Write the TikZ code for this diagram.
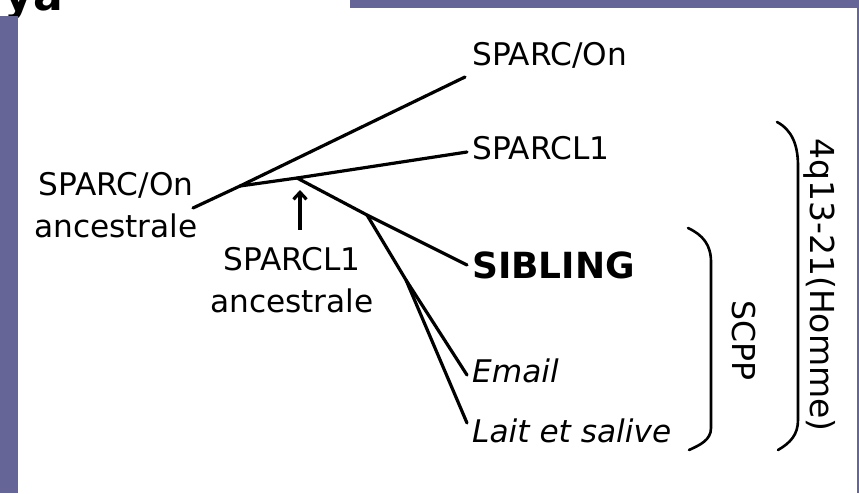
\documentclass[tikz,border=0pt]{standalone}
\usepackage{fontspec}
\setmainfont{DejaVu Sans}
\usetikzlibrary{arrows.meta}
\definecolor{slate}{RGB}{101,101,152}
\begin{document}
\begin{tikzpicture}[x=1pt,y=-1pt,
  branch/.style={line width=3.2pt, line cap=round, line join=round},
  brace/.style={line width=2.6pt, line cap=round},
  lbl/.style={inner sep=0pt, font=\fontsize{31.2}{42}\selectfont},
  leaf/.style={lbl, anchor=base west},
  side/.style={inner sep=0pt, rotate=-90, anchor=base}]
\useasboundingbox (0,0) rectangle (859,493);
\clip (0,0) rectangle (859,493);
\fill[white] (0,0) rectangle (859,493);
% title fragment
\node[inner sep=0pt, anchor=base east, font=\fontsize{44}{48}\selectfont\bfseries] (title) at (63,10) {ya};
% frame bars
\fill[slate] (0,16) rectangle (18,493);
\fill[slate] (350,0) rectangle (859,8);
\fill[slate] (857,8) rectangle (859,493);
% tree points
\coordinate (a0) at (193,208);
\coordinate (root) at (240,186);
\coordinate (n1) at (297,178);
\coordinate (n2) at (367,215);
\coordinate (n3) at (406,280);
\coordinate (e1) at (465,77);
\coordinate (e2) at (467,152);
\coordinate (e3) at (467,265);
\coordinate (e4) at (467,375);
\coordinate (e5) at (467,423);
% labels
\node[leaf] (sparc) at (472,65) {SPARC/On};
\node[leaf] (sparcl) at (472,159) {SPARCL1};
\node[leaf, font=\fontsize{36}{42}\selectfont\bfseries] (sib) at (472,278) {SIBLING};
\node[leaf, font=\fontsize{31.2}{42}\selectfont\itshape] (email) at (472,382) {Email};
\node[leaf, font=\fontsize{31.2}{42}\selectfont\itshape] (lait) at (472,442) {Lait et salive};
\node[lbl, align=center, anchor=base] (anc0) at (116,237) {SPARC/On\\ancestrale};
\node[lbl, align=center, anchor=base] (anc1) at (292,312) {SPARCL1\\ancestrale};
% branches
\draw[branch] (a0) -- (root) -- (e1);
\draw[branch] (root) -- (n1) -- (e2);
\draw[branch] (n1) -- (n2) -- (e3);
\draw[branch] (n2) -- (n3) -- (e4);
\draw[branch] (n3) -- (e5);
% arrow from the label up to the ancestral node
\draw[line width=3.4pt, shorten <=17pt, shorten >=12pt, -{Straight Barb[length=7pt,width=13pt,line width=3.2pt]}] (anc1.north -| n1) ++(3,0) coordinate (arrbase) -- (n1 -| arrbase);
% brackets
\coordinate (b1t) at (777,122);
\coordinate (b1b) at (778,450);
\draw[brace] (b1t) .. controls (792,130) and (798,145) .. (798,166) -- (798,420) .. controls (798,435) and (790,443) .. (b1b);
\coordinate (b2t) at (688,228);
\coordinate (b2b) at (689,450);
\draw[brace] (b2t) .. controls (703,235) and (711,245) .. (711,262) -- (711,428) .. controls (711,440) and (700,445) .. (b2b);
\node[side, font=\fontsize{33}{40}\selectfont] (chrom) at (810,285) {4q13-21(Homme)};
\node[side, font=\fontsize{31.5}{40}\selectfont] (scpp) at (732,340) {SCPP};
\end{tikzpicture}
\end{document}
